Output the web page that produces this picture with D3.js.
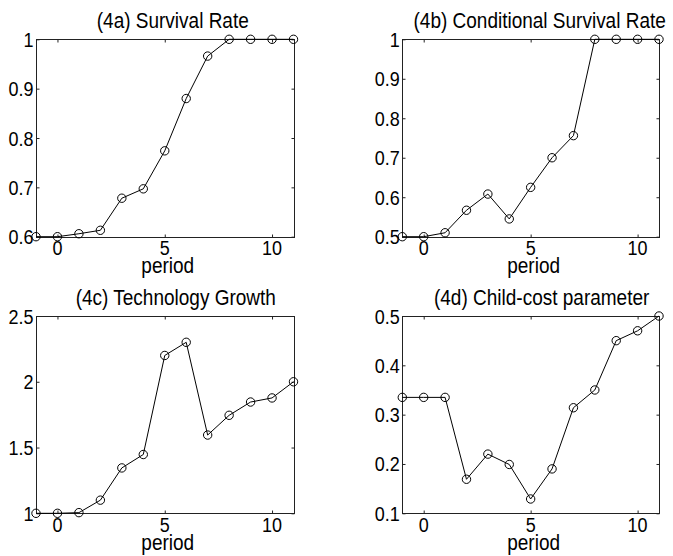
<!DOCTYPE html>
<html>
<head>
<meta charset="utf-8">
<script src="https://cdn.jsdelivr.net/npm/d3@7"></script>
<style>
  html, body { margin: 0; padding: 0; background: #fff; }
  svg text { font-family: "Liberation Sans", Arial, Helvetica, sans-serif; fill: #000; }
</style>
</head>
<body>
<svg id="fig" width="673" height="556"></svg>
<script>
// Period index shared by all four panels
const periods = [-1, 0, 1, 2, 3, 4, 5, 6, 7, 8, 9, 10, 11];
const xTicks = [0, 5, 10];

// (4a) Survival Rate
const survivalRate = [0.6, 0.6, 0.606, 0.613, 0.678, 0.697, 0.774, 0.88, 0.966, 1, 1, 1, 1];
const survivalTicks = [0.6, 0.7, 0.8, 0.9, 1];

// (4b) Conditional Survival Rate
const condSurvivalRate = [0.5, 0.5, 0.51, 0.567, 0.608, 0.545, 0.625, 0.7, 0.756, 1, 1, 1, 1];
const condSurvivalTicks = [0.5, 0.6, 0.7, 0.8, 0.9, 1];

// (4c) Technology Growth
const techGrowth = [1, 1, 1.005, 1.1, 1.345, 1.447, 2.2, 2.3, 1.595, 1.745, 1.846, 1.877, 2];
const techTicks = [1, 1.5, 2, 2.5];

// (4d) Child-cost parameter
const childCost = [0.335, 0.335, 0.335, 0.169, 0.22, 0.199, 0.129, 0.19, 0.314, 0.35, 0.45, 0.47, 0.5];
const childTicks = [0.1, 0.2, 0.3, 0.4, 0.5];

const panels = [
  { title: "(4a) Survival Rate", values: survivalRate, yTicks: survivalTicks, yDomain: [0.6, 1],
    left: 36, right: 293.5, top: 39.3, bottom: 236.7, titleShift: 8 },
  { title: "(4b) Conditional Survival Rate", values: condSurvivalRate, yTicks: condSurvivalTicks, yDomain: [0.5, 1],
    left: 402.3, right: 659, top: 39.3, bottom: 236.7, titleShift: 9 },
  { title: "(4c) Technology Growth", values: techGrowth, yTicks: techTicks, yDomain: [1, 2.5],
    left: 36, right: 293.5, top: 316, bottom: 513.3, titleShift: 11 },
  { title: "(4d) Child-cost parameter", values: childCost, yTicks: childTicks, yDomain: [0.1, 0.5],
    left: 402.3, right: 659, top: 316, bottom: 513.3, titleShift: 11 }
];

const svg = d3.select("#fig");
const tickLen = 3;
const stretch = 1.13;   // glyphs are drawn slightly tall
const fmt = d3.format("~g");

// Text placed at (x, baseline y) with a vertical stretch about its baseline
function label(g, x, y, str, size, anchor) {
  return g.append("text")
    .attr("transform", `translate(${x},${y}) scale(1,${stretch})`)
    .attr("text-anchor", anchor)
    .attr("font-size", size)
    .text(str);
}

panels.forEach(p => {
  const x = d3.scaleLinear().domain([-1, 11]).range([p.left, p.right]);
  const y = d3.scaleLinear().domain(p.yDomain).range([p.bottom, p.top]);
  const g = svg.append("g");
  const L = Math.round(p.left) + 0.5, R = Math.round(p.right) + 0.5;
  const T = Math.round(p.top) + 0.5, B = Math.round(p.bottom) + 0.5;

  // Axis box
  g.append("rect")
    .attr("x", L).attr("y", T).attr("width", R - L).attr("height", B - T)
    .attr("fill", "none").attr("stroke", "#222").attr("stroke-width", 1);

  // Inward ticks on all four sides
  const xb = g.append("g").attr("transform", `translate(0,${B})`)
    .call(d3.axisBottom(x).tickValues(xTicks).tickSizeInner(-tickLen).tickSizeOuter(0).tickFormat(""));
  const xt = g.append("g").attr("transform", `translate(0,${T})`)
    .call(d3.axisTop(x).tickValues(xTicks).tickSizeInner(-tickLen).tickSizeOuter(0).tickFormat(""));
  const yl = g.append("g").attr("transform", `translate(${L},0)`)
    .call(d3.axisLeft(y).tickValues(p.yTicks).tickSizeInner(-tickLen).tickSizeOuter(0).tickFormat(""));
  const yr = g.append("g").attr("transform", `translate(${R},0)`)
    .call(d3.axisRight(y).tickValues(p.yTicks).tickSizeInner(-tickLen).tickSizeOuter(0).tickFormat(""));
  [xb, xt, yl, yr].forEach(a => { a.select(".domain").remove(); a.selectAll("text").remove(); });
  g.selectAll(".tick line").attr("stroke", "#222");

  // Tick labels
  xTicks.forEach(t => label(g, x(t), p.bottom + 18.6, fmt(t), 18, "middle"));
  p.yTicks.forEach(t => label(g, p.left - 2.5, y(t) + 7.5, fmt(t), 18, "end"));

  // Series line
  const line = d3.line().x((d, i) => x(periods[i])).y(d => y(d));
  g.append("path").datum(p.values)
    .attr("d", line).attr("fill", "none").attr("stroke", "#000").attr("stroke-width", 1);

  // Circle markers
  g.selectAll("circle.m").data(p.values).join("circle")
    .attr("class", "m")
    .attr("cx", (d, i) => x(periods[i])).attr("cy", d => y(d))
    .attr("r", 4.2).attr("fill", "none").attr("stroke", "#000").attr("stroke-width", 1);

  // Title and x label
  label(g, (p.left + p.right) / 2 + p.titleShift, p.top - 11.5, p.title, 19, "middle");
  label(g, (p.left + p.right) / 2 + 3, p.bottom + 36.3, "period", 19, "middle");
});
</script>
</body>
</html>
